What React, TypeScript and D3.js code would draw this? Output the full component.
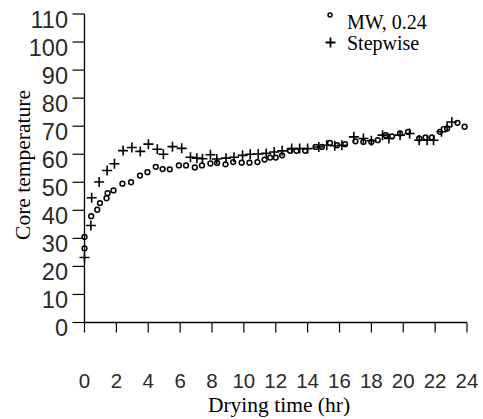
import React from "react";
import * as d3 from "d3";

const mwTime = [0, 0, 0.42, 0.8, 0.97, 1.38, 1.45, 1.82, 2.38, 2.92, 3.48, 3.95, 4.47, 4.9, 5.35, 5.92, 6.37, 6.92, 7.37, 7.9, 8.32, 8.85, 9.33, 9.86, 10.35, 10.85, 11.3, 11.65, 12.0, 12.4, 12.9, 13.3, 13.85, 14.5, 14.9, 15.4, 15.85, 16.35, 17.0, 17.5, 18.0, 18.4, 18.9, 19.3, 19.8, 20.3, 21.0, 21.4, 21.8, 22.3, 22.75, 23.4, 23.85];
const mwTemp = [30.5, 26.4, 37.9, 40.2, 42.6, 44.3, 46.1, 47.1, 49.5, 50.0, 52.4, 53.6, 55.5, 54.7, 54.6, 56.0, 56.0, 55.3, 56.0, 56.7, 56.9, 56.4, 57.2, 57.0, 57.0, 57.2, 58.1, 58.8, 58.8, 59.6, 61.2, 61.2, 61.2, 62.6, 62.6, 64.0, 63.2, 63.6, 64.6, 64.4, 64.4, 65.0, 66.8, 66.4, 67.4, 68.0, 65.6, 66.0, 66.0, 68.0, 69.2, 71.2, 69.8];

const swTime = [0, 0.4, 0.45, 0.92, 1.42, 1.88, 2.42, 2.97, 3.5, 4.01, 4.57, 4.95, 5.52, 6.1, 6.65, 7.05, 7.4, 7.9, 8.3, 8.88, 9.38, 9.92, 10.4, 10.9, 11.4, 11.9, 12.4, 13.0, 13.5, 14.0, 14.7, 15.2, 15.7, 16.15, 16.9, 17.5, 18.0, 18.7, 19.1, 19.8, 20.4, 21.0, 21.5, 21.9, 22.4, 22.75, 23.05];
const swTemp = [23.2, 34.6, 44.5, 50.1, 54.2, 56.6, 61.3, 62.4, 61.0, 63.6, 61.8, 60.0, 62.7, 62.1, 58.9, 58.6, 58.4, 59.8, 58.3, 58.6, 58.9, 59.6, 60.0, 60.1, 60.3, 60.8, 61.2, 62.0, 62.0, 62.0, 62.6, 63.2, 63.0, 63.2, 66.2, 65.6, 64.8, 66.8, 65.6, 66.8, 67.4, 65.0, 65.0, 65.0, 68.0, 69.8, 71.5];

const xTicks = [0, 2, 4, 6, 8, 10, 12, 14, 16, 18, 20, 22, 24];
const yTicks = [0, 10, 20, 30, 40, 50, 60, 70, 80, 90, 100, 110];
const legendLabels = ["MW, 0.24", "Stepwise"];
const xTitle = "Drying time (hr)";
const yTitle = "Core temperature";

export default function App() {
  const W = 483;
  const H = 419;
  const x = d3.scaleLinear().domain([0, 24]).range([84.5, 467]);
  const y = d3.scaleLinear().domain([0, 110]).range([322.5, 14]);
  const sans = "'Liberation Sans', Arial, sans-serif";
  const serif = "'Liberation Serif', 'Times New Roman', serif";
  const mw = mwTime.map((t, i) => [t, mwTemp[i]]);
  const sw = swTime.map((t, i) => [t, swTemp[i]]);
  const ps = 5;
  return (
    <svg width={W} height={H} style={{ position: "absolute", left: 0, top: 0, background: "#fff" }}>
      <rect width={W} height={H} fill="#fff" />
      <line x1={x(0)} x2={x(0)} y1={y(110)} y2={y(0)} stroke="#000" strokeWidth={1.3} />
      <line x1={x(0)} x2={x(24)} y1={y(0)} y2={y(0)} stroke="#000" strokeWidth={1.3} />
      {yTicks.map((v) => (
        <g key={"y" + v}>
          <line x1={x(0) - 12} x2={x(0)} y1={y(v)} y2={y(v)} stroke="#000" strokeWidth={1.2} />
          <text x={68} y={y(v) + 13.5} textAnchor="end" fontFamily={sans} fontSize={23.5} fill="#2a2a2a">
            {v}
          </text>
        </g>
      ))}
      {xTicks.map((v) => (
        <g key={"x" + v}>
          <line x1={x(v)} x2={x(v)} y1={y(0)} y2={y(0) + 10} stroke="#000" strokeWidth={1.2} />
          <text x={x(v)} y={387.5} textAnchor="middle" fontFamily={sans} fontSize={20.5} fill="#2a2a2a">
            {v}
          </text>
        </g>
      ))}
      <text x={279} y={412} textAnchor="middle" fontFamily={serif} fontSize={21.5} fill="#000">
        {xTitle}
      </text>
      <text transform={`translate(29.5,165) rotate(-90)`} textAnchor="middle" fontFamily={serif} fontSize={21.5} fill="#000">
        {yTitle}
      </text>
      {mw.map((d, i) => (
        <circle key={"c" + i} cx={x(d[0])} cy={y(d[1])} r={2.4} fill="none" stroke="#000" strokeWidth={1.5} />
      ))}
      {sw.map((d, i) => (
        <path
          key={"p" + i}
          d={`M${x(d[0]) - ps},${y(d[1])}h${2 * ps}M${x(d[0])},${y(d[1]) - ps}v${2 * ps}`}
          stroke="#000"
          strokeWidth={1.6}
          fill="none"
        />
      ))}
      <circle cx={330} cy={15} r={2} fill="none" stroke="#000" strokeWidth={1.5} />
      <text x={347} y={29} fontFamily={serif} fontSize={20} fill="#000">
        {legendLabels[0]}
      </text>
      <path d={`M325.5,42.5h10M330.5,37.5v10`} stroke="#000" strokeWidth={1.8} />
      <text x={347} y={49.5} fontFamily={serif} fontSize={20} fill="#000">
        {legendLabels[1]}
      </text>
    </svg>
  );
}
